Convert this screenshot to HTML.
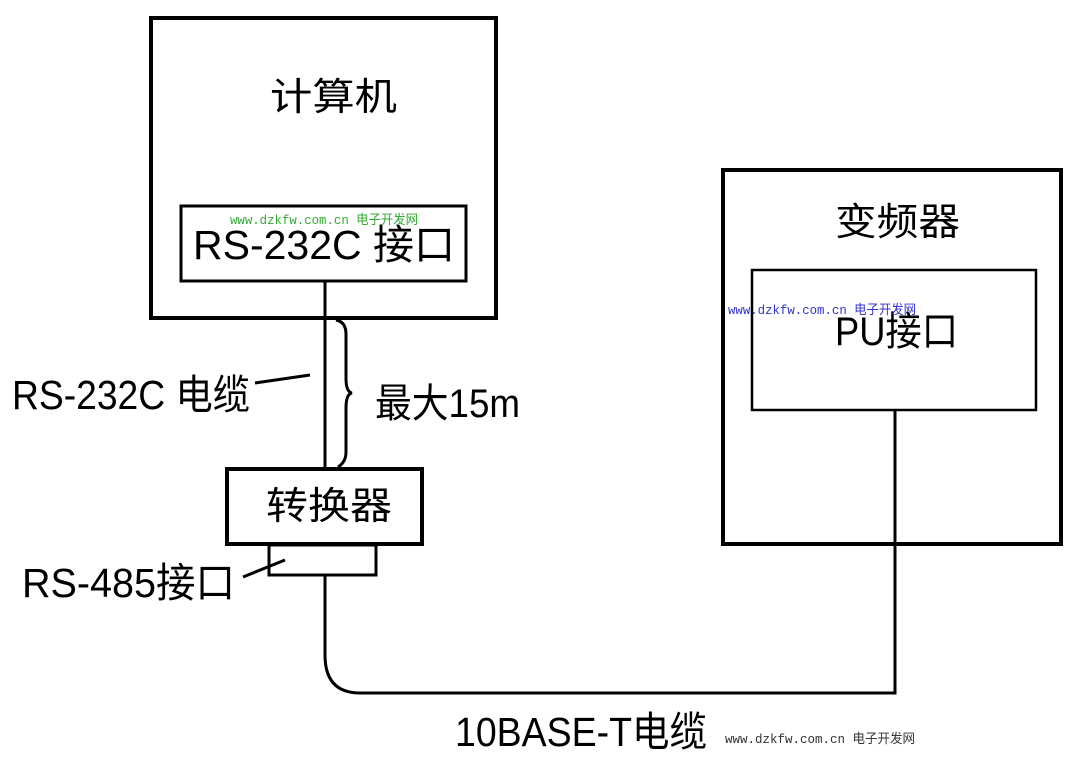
<!DOCTYPE html>
<html><head><meta charset="utf-8"><style>html,body{margin:0;padding:0;background:#fff}svg{display:block}</style></head>
<body>
<svg width="1080" height="757" viewBox="0 0 1080 757" xmlns="http://www.w3.org/2000/svg" font-family="'Liberation Sans','Noto Sans CJK SC',sans-serif">
<g fill="none" stroke="#000">
<rect x="151" y="18" width="345" height="300" stroke-width="4"/>
<rect x="181" y="206" width="285" height="75" stroke-width="3"/>
<rect x="723" y="170" width="338" height="374" stroke-width="4"/>
<rect x="752" y="270" width="284" height="140" stroke-width="2.5"/>
<rect x="227" y="469" width="195" height="75" stroke-width="4"/>
<rect x="269" y="545" width="107" height="30" stroke-width="3"/>
<path d="M325 281 V469" stroke-width="3"/>
<path d="M325 575 V655 Q325 693 360 693 H895 V410" stroke-width="3"/>
<path d="M336 320 Q346 322 346 334 V378 Q346 392 352 393 Q346 394 346 408 V452 Q346 462 338 467" stroke-width="3"/>
<path d="M255 383 L310 375" stroke-width="3"/>
<path d="M243 577 L285 560" stroke-width="3"/>
</g>
<g fill="#000">
<text x="270" y="110" font-size="38" textLength="127" lengthAdjust="spacingAndGlyphs">计算机</text>
<text x="193" y="259" font-size="41" textLength="262" lengthAdjust="spacingAndGlyphs">RS-232C 接口</text>
<text x="835" y="235" font-size="38" textLength="125" lengthAdjust="spacingAndGlyphs">变频器</text>
<text x="835" y="345" font-size="40" textLength="123" lengthAdjust="spacingAndGlyphs">PU接口</text>
<text x="12" y="409" font-size="41" textLength="238" lengthAdjust="spacingAndGlyphs">RS-232C 电缆</text>
<text x="375" y="417" font-size="40" textLength="145" lengthAdjust="spacingAndGlyphs">最大15m</text>
<text x="266" y="519" font-size="38" textLength="126" lengthAdjust="spacingAndGlyphs">转换器</text>
<text x="22" y="597" font-size="41" textLength="213" lengthAdjust="spacingAndGlyphs">RS-485接口</text>
<text x="455" y="746" font-size="41" textLength="252" lengthAdjust="spacingAndGlyphs">10BASE-T电缆</text>
</g>
<text x="230" y="224" font-size="13" fill="#3a3" font-family="'Liberation Mono','Noto Sans CJK SC',monospace" textLength="188" lengthAdjust="spacingAndGlyphs">www.dzkfw.com.cn 电子开发网</text>
<text x="728" y="314" font-size="13" fill="#33c" font-family="'Liberation Mono','Noto Sans CJK SC',monospace" textLength="188" lengthAdjust="spacingAndGlyphs">www.dzkfw.com.cn 电子开发网</text>
<text x="725" y="743" font-size="13" fill="#333" font-family="'Liberation Mono','Noto Sans CJK SC',monospace" textLength="190" lengthAdjust="spacingAndGlyphs">www.dzkfw.com.cn 电子开发网</text>
</svg>
</body></html>
